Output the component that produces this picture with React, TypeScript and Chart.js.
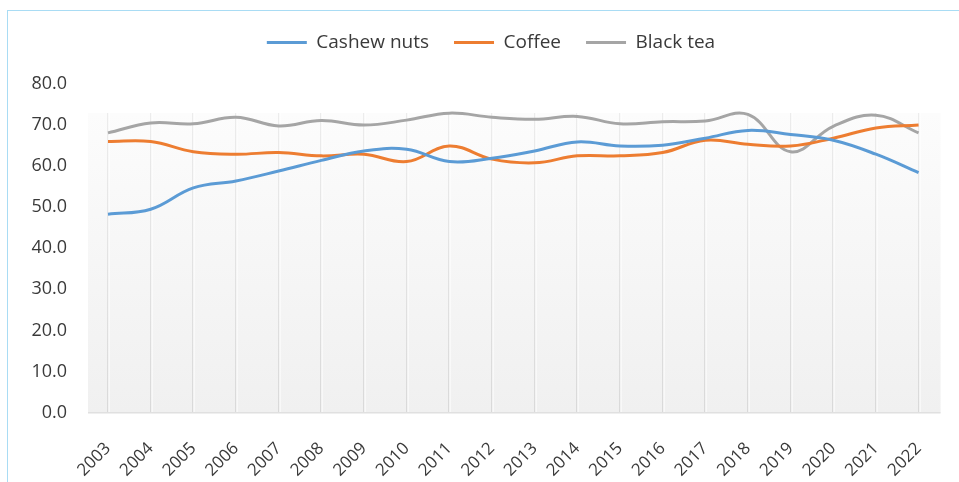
import React, { useEffect, useRef } from "react";
import { Chart, registerables } from "chart.js";

Chart.register(...registerables);

// Years on the category axis
const years = [
  "2003", "2004", "2005", "2006", "2007", "2008", "2009", "2010", "2011", "2012",
  "2013", "2014", "2015", "2016", "2017", "2018", "2019", "2020", "2021", "2022",
];

// Series values per year
const cashewNuts = [
  48.3, 49.5, 54.7, 56.4, 58.8, 61.4, 63.7, 64.1, 61.1, 61.9,
  63.7, 65.9, 64.9, 65.1, 66.8, 68.7, 67.7, 66.3, 62.9, 58.4,
];
const coffee = [
  66.0, 66.0, 63.5, 62.9, 63.3, 62.5, 62.9, 61.1, 64.9, 61.7,
  60.8, 62.5, 62.5, 63.3, 66.3, 65.3, 64.9, 66.8, 69.3, 70.0,
];
const blackTea = [
  68.1, 70.5, 70.3, 71.9, 69.8, 71.1, 70.0, 71.2, 72.9, 71.9,
  71.4, 72.1, 70.3, 70.8, 71.0, 72.6, 63.5, 69.7, 72.4, 68.1,
];

// Value axis range and step
const yMin = 0;
const yMax = 80;
const yStep = 10;

const FONT = "'Open Sans', 'DejaVu Sans', sans-serif";
const TEXT = "#3a3a3a";

// Soft grey panel behind the lines, with vertical category gridlines
const plotPanel = {
  id: "plotPanel",
  beforeDatasetsDraw(chart: any) {
    const { ctx, chartArea, scales } = chart;
    const xs = scales.x;
    const ys = scales.y;
    const left = chartArea.left - 20;
    const right = chartArea.right + 22;
    const top = chartArea.top + 29;
    const bottom = ys.getPixelForValue(yMin);
    ctx.save();
    const bg = ctx.createLinearGradient(0, top, 0, bottom);
    bg.addColorStop(0, "#fcfcfc");
    bg.addColorStop(1, "#f0f0f0");
    ctx.fillStyle = bg;
    ctx.fillRect(left, top, right - left, bottom - top);

    const gl = ctx.createLinearGradient(0, top, 0, bottom);
    gl.addColorStop(0, "#ececec");
    gl.addColorStop(1, "#d9d9d9");
    for (let i = 0; i < years.length; i++) {
      const px = Math.round(xs.getPixelForValue(i));
      ctx.fillStyle = gl;
      ctx.fillRect(px - 1, top, 1.5, bottom - top);
      ctx.fillStyle = "#ffffff";
      ctx.fillRect(px + 0.5, top, 1, bottom - top);
    }
    ctx.fillStyle = "#e0e0e0";
    ctx.fillRect(left, bottom - 0.5, right - left, 1.5);
    ctx.restore();
  },
};

// Extra room under the legend, and the legend row centred over the panel
const legendPlacement = {
  id: "legendPlacement",
  afterInit(chart: any) {
    const lg = chart.legend;
    if (!lg) return;
    const orig = lg.fit;
    lg.fit = function () {
      orig.call(this);
      this.height += 22;
    };
  },
  afterLayout(chart: any) {
    const lg = chart.legend;
    if (lg) lg.left += 60;
  },
};

export default function App() {
  const canvasRef = useRef<HTMLCanvasElement | null>(null);

  useEffect(() => {
    const canvas = canvasRef.current;
    if (!canvas) return;
    const chart = new Chart(canvas, {
      type: "line",
      data: {
        labels: years,
        datasets: [
          { label: "Cashew nuts", data: cashewNuts, borderColor: "#5b9bd5", backgroundColor: "#5b9bd5" },
          { label: "Coffee", data: coffee, borderColor: "#ed7d31", backgroundColor: "#ed7d31" },
          { label: "Black tea", data: blackTea, borderColor: "#a5a5a5", backgroundColor: "#a5a5a5" },
        ].map((d) => ({
          ...d,
          borderWidth: 3,
          pointRadius: 0,
          pointHoverRadius: 0,
          pointStyle: "line" as const,
          tension: 0.4,
          fill: false,
        })),
      },
      options: {
        responsive: false,
        animation: false,
        layout: { padding: { top: 8, left: 0, right: 37, bottom: 0 } },
        plugins: {
          tooltip: { enabled: false },
          legend: {
            position: "top",
            align: "center",
            labels: {
              usePointStyle: true,
              pointStyle: "line",
              pointStyleWidth: 40,
              padding: 25,
              color: TEXT,
              font: { family: FONT, size: 19 },
            },
          },
        },
        scales: {
          x: {
            offset: false,
            grid: { display: false, drawTicks: false },
            border: { display: false },
            ticks: {
              autoSkip: false,
              maxRotation: 45,
              minRotation: 45,
              padding: 26,
              color: TEXT,
              font: { family: FONT, size: 17 },
            },
            afterFit(s: any) {
              s.height = 69.5;
            },
          },
          y: {
            min: yMin,
            max: yMax,
            grid: { display: false, drawTicks: false },
            border: { display: false },
            ticks: {
              stepSize: yStep,
              padding: 41,
              color: TEXT,
              font: { family: FONT, size: 18 },
              callback: (v: any) => Number(v).toFixed(1),
            },
            afterFit(s: any) {
              s.width = 108;
            },
          },
        },
      },
      plugins: [plotPanel, legendPlacement],
    });
    return () => chart.destroy();
  }, []);

  return (
    <div>
      <div
        style={{
          position: "fixed",
          left: 7,
          top: 10,
          right: 0,
          bottom: 0,
          borderLeft: "1.5px solid #a9dcf4",
          borderTop: "1.5px solid #a9dcf4",
          pointerEvents: "none",
        }}
      />
      <canvas
        ref={canvasRef}
        width={959}
        height={482}
        style={{ position: "fixed", left: 0, top: 0, width: 959, height: 482 }}
      />
    </div>
  );
}
